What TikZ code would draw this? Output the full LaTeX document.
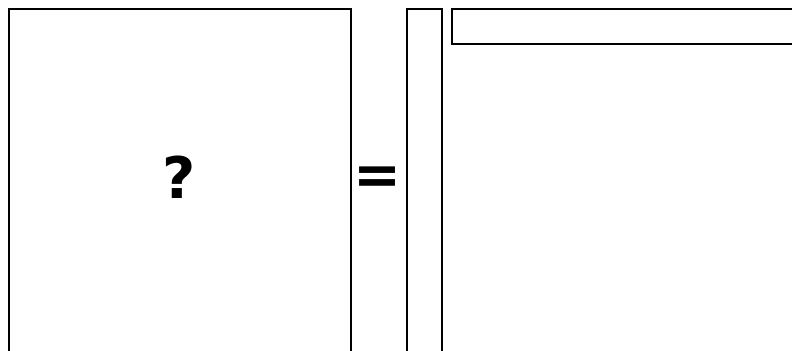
\documentclass[tikz,border=0pt]{standalone}
\usepackage{fontspec}
\setmainfont{DejaVu Sans}
\tikzset{
  mat box/.style={draw=black,line width=1.5pt,fill=white,inner sep=0pt},
  mat sym/.style={font=\bfseries\fontsize{43}{43}\selectfont,inner sep=0pt}
}
\begin{document}
\begin{tikzpicture}[x=0.75pt,y=-0.75pt]
  \clip (0,0) rectangle (792,350);
  \fill[white] (0,0) rectangle (792,350);
  \node[mat box,minimum width=342*0.75pt,minimum height=346*0.75pt,anchor=north west] (prod) at (8,8) {};
  \node[mat box,minimum width=35*0.75pt,minimum height=346*0.75pt,anchor=north west] (col) at (406,8) {};
  \node[mat box,minimum width=346*0.75pt,minimum height=35*0.75pt,anchor=north west] (row) at (451,8) {};
  \node[mat sym] (quest) at (179,177) {?};
  \node[mat sym] (eq) at (378,181) {=};
\end{tikzpicture}
\end{document}
